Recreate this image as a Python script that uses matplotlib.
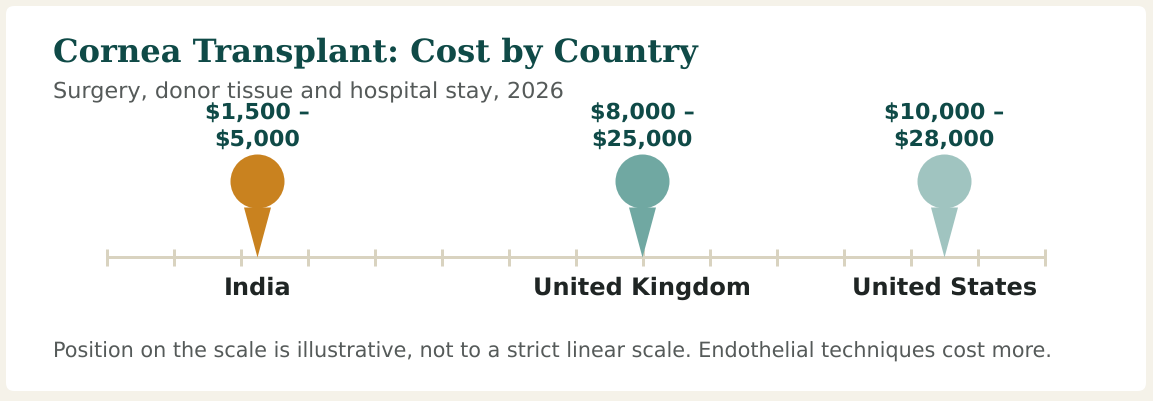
import matplotlib.pyplot as plt
from matplotlib.patches import FancyBboxPatch
from matplotlib.path import Path

plt.rcParams['text.hinting'] = 'no_hinting'

#------------------------------#
# DATA
#------------------------------#

countries = ['India', 'United Kingdom', 'United States']
cost_labels = ['$1,500 –\n$5,000', '$8,000 –\n$25,000', '$10,000 –\n$28,000']
scale_pos = [2.245, 7.99, 12.495]
pin_colors = ['#C9821F', '#70A8A2', '#A0C4C0']
scale_ticks = list(range(15))

title = 'Cornea Transplant: Cost by Country'
subtitle = 'Surgery, donor tissue and hospital stay, 2026'
footnote = 'Position on the scale is illustrative, not to a strict linear scale. Endothelial techniques cost more.'

#------------------------------#
# FIGURE
#------------------------------#

W, H = 1153, 401
PX = 72 / 100  # points per pixel at dpi 100
TEAL = '#0F4A47'
GREY = '#555A59'
SCALE = '#D9D3C0'

fig = plt.figure(figsize=(W / 100, H / 100), dpi=100, facecolor='#F5F2E9')

# card behind everything, in figure pixels
bg = fig.add_axes([0, 0, 1, 1])
bg.set_xlim(0, W)
bg.set_ylim(H, 0)
bg.axis('off')
bg.add_patch(FancyBboxPatch((14, 14), 1124, 369, boxstyle='round,pad=8,rounding_size=8',
                            facecolor='white', edgecolor='none'))

bg.text(53, 53, title, family='DejaVu Serif', weight='bold', fontsize=23.1,
        color=TEAL, ha='left', va='center')
bg.text(53, 92, subtitle, fontsize=16.1, color=GREY, ha='left', va='center')
bg.text(53, 352, footnote, fontsize=14.97, color=GREY, ha='left', va='center')

# scale axes, x runs 0-14 from pixel 107 to 1045, y=0 is the scale line at pixel 257
ax = fig.add_axes([107 / W, (H - 257) / H, 938 / W, 1 / H])
ax.set_xlim(0, 14)
ax.set_ylim(0, 1)
ax.axis('off')

ax.plot([scale_ticks[0], scale_ticks[-1]], [0, 0], color=SCALE, linewidth=3 * PX,
        clip_on=False, solid_capstyle='butt', zorder=1)
ax.plot(scale_ticks, [0] * len(scale_ticks), linestyle='none', marker='|', color=SCALE,
        markersize=17 * PX, markeredgewidth=3 * PX, clip_on=False, zorder=1)

# pin shape: triangle with its tip on the data point, circle above it (pixels up from tip)
# custom markers get scaled so the furthest vertex sits at markersize / 2
cone = Path([(-13.5, 50), (13.5, 50), (0, 0), (-13.5, 50)], closed=True)
head = Path.circle((0, 76), 27)

for x, c, label, name in zip(scale_pos, pin_colors, cost_labels, countries):
    ax.plot([x], [0], linestyle='none', marker=cone, markersize=100 * PX, color=c,
            markeredgewidth=0, clip_on=False, zorder=2)
    ax.plot([x], [0], linestyle='none', marker=head, markersize=206 * PX, color=c,
            markeredgewidth=0, clip_on=False, zorder=2)
    ax.annotate(label, (x, 0), xytext=(0, 131 * PX), textcoords='offset points',
                ha='center', va='center', fontsize=16, weight='bold', color=TEAL,
                linespacing=1.35, annotation_clip=False)
    ax.annotate(name, (x, 0), xytext=(0, -31 * PX), textcoords='offset points',
                ha='center', va='center', fontsize=17.3, weight='bold', color='#1F2524',
                annotation_clip=False)

fig.savefig('out.png', dpi=100, facecolor=fig.get_facecolor())
